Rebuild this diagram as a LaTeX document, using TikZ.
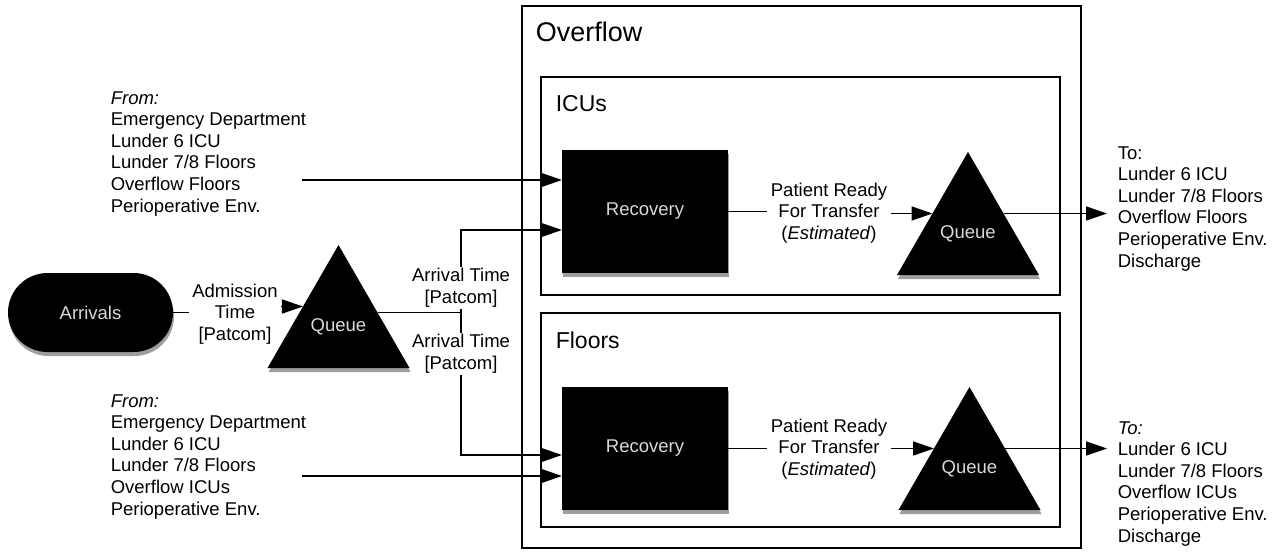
\documentclass[tikz,border=0pt]{standalone}
\usepackage{fontspec}
\setmainfont{Liberation Sans}
\usetikzlibrary{shapes.geometric,shapes.misc,arrows.meta,shadows,calc}
\begin{document}
\begin{tikzpicture}[x=1pt,y=-1pt,
  font=\fontsize{18.5}{21.6}\selectfont,
  line width=1.6pt,
  flow/.style={-{Triangle[length=21pt,width=14pt]}},
  shdw/.style={drop shadow={shadow xshift=1pt,shadow yshift=-4pt,fill=black!38,opacity=1}},
  blk/.style={fill=black,draw=none,text=white!85!black,outer sep=0pt,shdw},
  queue/.style={blk,regular polygon,regular polygon sides=3,minimum size=164pt,inner sep=0pt},
  recov/.style={blk,rectangle,minimum width=166pt,minimum height=123pt,inner sep=0pt},
  txt/.style={align=left,inner sep=0pt,anchor=north west},
  lab/.style={align=center,inner sep=3pt},
  box/.style={draw,line width=1.7pt},
  title/.style={anchor=base west,inner sep=0pt}
]
\useasboundingbox (0,0) rectangle (1278,552);

% containers
\draw[box] (522,6) rectangle (1081,548);
\draw[box] (541,77) rectangle (1060,295);
\draw[box] (541,313) rectangle (1060,527);
\node[title,font=\fontsize{27}{30}\selectfont] (tOv) at (535,41) {Overflow};
\node[title,font=\fontsize{23}{26}\selectfont] (tIcu) at (555,111) {ICUs};
\node[title,font=\fontsize{23}{26}\selectfont] (tFl) at (555,348) {Floors};

% process blocks
\node[blk,rounded rectangle,minimum width=165pt,minimum height=79pt,inner sep=0pt] (arr) at (90.5,312.5) {Arrivals};
\node[queue] (mq) at (338.5,327) {Queue};
\node[recov] (ir) at (645,211.5) {Recovery};
\node[queue] (iq) at (968,234) {Queue};
\node[recov] (fr) at (645,448.5) {Recovery};
\node[queue] (fq) at (969.5,469) {Queue};

% points on the triangle sides
\coordinate (mqL) at ($(mq.corner 1)!0.5!(mq.corner 2)$);
\coordinate (mqR) at ($(mq.corner 1)!0.55!(mq.corner 3)$);
\coordinate (iqL) at ($(iq.corner 1)!0.5!(iq.corner 2)$);
\coordinate (iqR) at ($(iq.corner 1)!0.5!(iq.corner 3)$);
\coordinate (fqL) at ($(fq.corner 1)!0.5!(fq.corner 2)$);
\coordinate (fqR) at ($(fq.corner 1)!0.5!(fq.corner 3)$);

% source and destination lists
\node[txt] (fromA) at (110,90.5) {\textit{From:}\\Emergency Department\\Lunder 6 ICU\\Lunder 7/8 Floors\\Overflow Floors\\Perioperative Env.};
\node[txt] (fromB) at (110,393.5) {\textit{From:}\\Emergency Department\\Lunder 6 ICU\\Lunder 7/8 Floors\\Overflow ICUs\\Perioperative Env.};
\node[txt,inner xsep=10pt] (toA) at (1107,145.5) {To:\\Lunder 6 ICU\\Lunder 7/8 Floors\\Overflow Floors\\Perioperative Env.\\Discharge};
\node[txt,inner xsep=10pt] (toB) at (1107,420.5) {\textit{To:}\\Lunder 6 ICU\\Lunder 7/8 Floors\\Overflow ICUs\\Perioperative Env.\\Discharge};
\coordinate (fromAend) at (302,180);
\coordinate (fromBend) at (302,476);

% connector labels
\node[lab] (admL) at (235,314) {Admission\\Time\\{}[Patcom]};
\node[lab,inner sep=1pt] (arrU) at (461,288) {Arrival Time\\{}[Patcom]};
\node[lab,inner sep=1pt] (arrD) at (461,354) {Arrival Time\\{}[Patcom]};
\node[lab] (prI) at (829,213) {Patient Ready\\For Transfer\\(\textit{Estimated})};
\node[lab] (prF) at (829,449) {Patient Ready\\For Transfer\\(\textit{Estimated})};
\coordinate (bend) at (arrU.south |- mqR);

% connectors
\draw (arr.east) -- (arr.east -| admL.west);
\draw[flow] (admL.east |- mqL) -- (mqL);
\draw (mqR) -- (bend) -- (arrU.south);
\draw[flow] (arrU.north) |- ([yshift=-18.5pt]ir.west);
\draw (bend) -- (arrD.north);
\draw[flow] (arrD.south) |- ([yshift=-6.5pt]fr.west);
\draw[flow] (fromAend) -- (fromAend -| ir.west);
\draw[flow] (fromBend) -- (fromBend -| fr.west);
\draw (ir.east) -- (ir.east -| prI.west);
\draw[flow] (prI.east |- iqL) -- (iqL);
\draw (fr.east) -- (fr.east -| prF.west);
\draw[flow] (prF.east |- fqL) -- (fqL);
\draw[flow] (iqR) -- (iqR -| toA.west);
\draw[flow] (fqR) -- (fqR -| toB.west);
\end{tikzpicture}
\end{document}
